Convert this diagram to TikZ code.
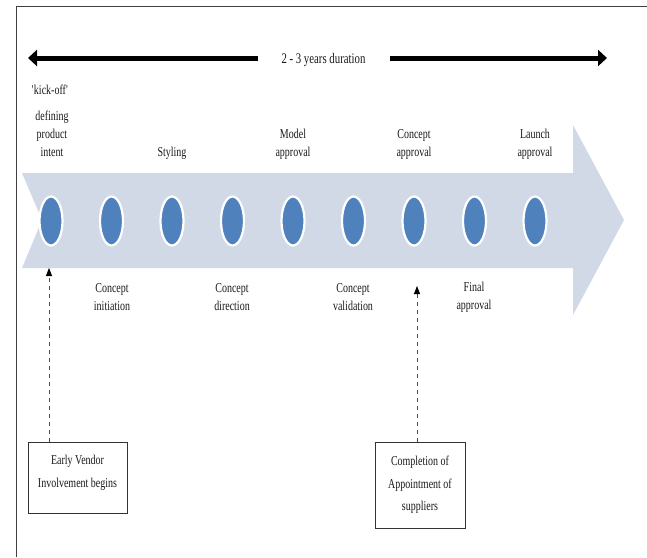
\documentclass[tikz,border=0pt]{standalone}
\usepackage{fontspec}
\setmainfont[FakeStretch=0.74]{Liberation Serif}
\usetikzlibrary{arrows.meta,shapes.geometric}
\definecolor{arrowbg}{HTML}{D1D9E7}
\definecolor{dotblue}{HTML}{4F81BD}
\tikzset{
  lbl/.style={align=center, inner sep=0pt, text=black!90, font=\fontsize{13.5}{18}\selectfont},
  dot/.style={ellipse, fill=dotblue, draw=white, line width=2.2pt, minimum width=23pt, minimum height=49pt, inner sep=0pt},
  vbox/.style={draw=black!80, line width=0.9pt, inner sep=0pt},
  boxtxt/.style={align=center, inner sep=0pt, text=black!90, font=\fontsize{13.5}{22.5}\selectfont},
  dur/.style={line width=5pt, -{Triangle[width=16pt,length=9pt]}},
  vdash/.style={draw=black!70, line width=0.8pt, dash pattern=on 4pt off 4pt, -{Triangle[width=6pt,length=8pt,color=black]}}
}
\begin{document}
\begin{tikzpicture}[x=1pt,y=-1pt]
\useasboundingbox (0,0) rectangle (647,557);
% frame
\draw[black!75, line width=0.9pt] (16,557) -- (16,6) -- (647,6);
% big arrow
\fill[arrowbg] (22,173) -- (573,173) -- (573,125) -- (624,220) -- (573,315) -- (573,268) -- (22,268) -- (42,220) -- cycle;
% dots
\foreach \i in {0,...,8} {
  \node[dot] (d\i) at ({51+60.5*\i},221) {};
}
% duration
\node[lbl, font=\fontsize{14.6}{16}\selectfont] (dur) at (323.5,60) {2 - 3 years duration};
\coordinate (lt) at (28,58);
\coordinate (rt) at (607,58);
\draw[dur] (258,58) -- (lt);
\draw[dur] (390,58) -- (rt);
% top labels
\node[lbl] (kick) at (50,90) {\textquotesingle kick-off\textquotesingle};
\node[lbl] (def) at (52,134) {defining\\product\\intent};
\node[lbl] (sty) at (172,153) {Styling};
\node[lbl] (mod) at (293,144) {Model\\approval};
\node[lbl] (cap) at (414,144) {Concept\\approval};
\node[lbl] (lap) at (535,144) {Launch\\approval};
% bottom labels
\node[lbl] (ci) at (112,297) {Concept\\initiation};
\node[lbl] (cd) at (232,297) {Concept\\direction};
\node[lbl] (cv) at (353,297) {Concept\\validation};
\node[lbl] (fa) at (474,297) {Final\\approval};
% boxes
\node[vbox, minimum width=99pt, minimum height=71pt] (b1) at (77.5,477.5) {};
\node[boxtxt] (b1t) at (77.5,473) {Early Vendor\\Involvement begins};
\node[vbox, minimum width=90pt, minimum height=86pt] (b2) at (420,485) {};
\node[boxtxt] (b2t) at (420,485) {Completion of\\Appointment of\\suppliers};
\coordinate (t1) at (49,268);
\coordinate (t2) at (417,286);
\draw[vdash] (b1.north -| t1) -- (t1);
\draw[vdash] (b2.north -| t2) -- (t2);
\end{tikzpicture}
\end{document}
